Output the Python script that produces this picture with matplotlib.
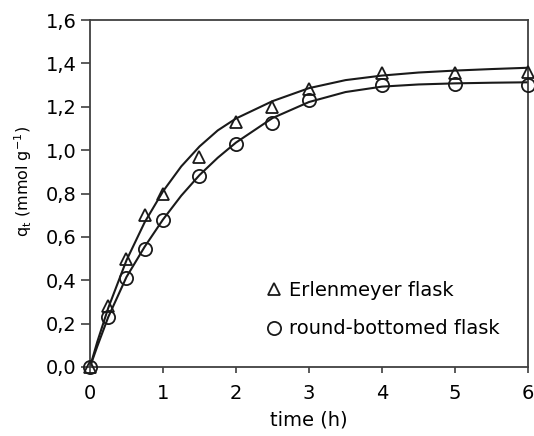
import matplotlib.pyplot as plt
from matplotlib.lines import Line2D
from matplotlib.ticker import FuncFormatter

time_pts = [0, 0.25, 0.5, 0.75, 1, 1.5, 2, 2.5, 3, 4, 5, 6]
q_erlenmeyer = [0, 0.28, 0.50, 0.70, 0.80, 0.97, 1.13, 1.20, 1.28, 1.355, 1.355, 1.36]
q_round = [0, 0.23, 0.41, 0.545, 0.68, 0.88, 1.03, 1.125, 1.23, 1.30, 1.307, 1.30]

# Fitted curves
time_fit = [0, 0.1, 0.25, 0.5, 0.75, 1, 1.25, 1.5, 1.75, 2, 2.5, 3, 3.5, 4, 4.5, 5, 5.5, 6]
fit_erlenmeyer = [0, 0.116, 0.272, 0.492, 0.668, 0.81, 0.925, 1.017, 1.091, 1.146,
                  1.226, 1.286, 1.323, 1.344, 1.358, 1.367, 1.374, 1.38]
fit_round = [0, 0.095, 0.23, 0.415, 0.555, 0.68, 0.79, 0.885, 0.965, 1.035,
             1.148, 1.222, 1.268, 1.293, 1.303, 1.308, 1.311, 1.313]

labels = ["Erlenmeyer flask", "round-bottomed flask"]
xticks = [0, 1, 2, 3, 4, 5, 6]
yticks = [0, 0.2, 0.4, 0.6, 0.8, 1.0, 1.2, 1.4, 1.6]

# the reference text is drawn wide, so a wide sans is used for the horizontal text
plt.rcParams['font.family'] = ['DejaVu Sans']
plt.rcParams['mathtext.fontset'] = 'custom'
plt.rcParams['mathtext.rm'] = 'DejaVu Sans'

fig = plt.figure(figsize=(5.34, 4.36), dpi=100)
ax = fig.add_axes([0.1685, 0.1583, 0.8203, 0.7957])

ink = "#1a1a1a"
ax.plot(time_fit, fit_erlenmeyer, color=ink, linewidth=1.5)
ax.plot(time_fit, fit_round, color=ink, linewidth=1.5)
ax.plot(time_pts, q_erlenmeyer, '^', markersize=9, markerfacecolor='none',
        markeredgecolor=ink, markeredgewidth=1.3, clip_on=False, zorder=3)
ax.plot(time_pts, q_round, 'o', markersize=9.5, markerfacecolor='none',
        markeredgecolor=ink, markeredgewidth=1.3, clip_on=False, zorder=3)

ax.set_xlim(0, 6)
ax.set_ylim(0, 1.6)
ax.set_xticks(xticks)
ax.set_yticks(yticks)
ax.yaxis.set_major_formatter(FuncFormatter(lambda v, p: f"{v:.1f}".replace('.', ',')))
ax.tick_params(axis='both', labelsize=14, color='#404040', width=1.2)
ax.tick_params(axis='y', direction='out', length=6.5, pad=3)
ax.tick_params(axis='x', direction='out', length=4, pad=8)
for side in ['left', 'bottom', 'top', 'right']:
    ax.spines[side].set_color('#404040')
    ax.spines[side].set_linewidth(1.3)

ax.set_xlabel("time (h)", fontsize=14, labelpad=6)
ax.set_ylabel(r"q$_\mathregular{t}$ (mmol g$^\mathregular{-1}$)", fontsize=11.5)
ax.yaxis.set_label_coords(-0.128, 0.536)

handles = [
    Line2D([], [], linestyle='none', marker='^', markersize=9, markerfacecolor='none',
           markeredgecolor=ink, markeredgewidth=1.3),
    Line2D([], [], linestyle='none', marker='o', markersize=9.5, markerfacecolor='none',
           markeredgecolor=ink, markeredgewidth=1.3),
]
ax.legend(handles, labels, loc='lower left', bbox_to_anchor=(0.385, 0.06),
          frameon=False, fontsize=14, handlelength=0.8, handletextpad=0.35,
          labelspacing=1.0, borderaxespad=0)

fig.savefig("out.png", dpi=100)
